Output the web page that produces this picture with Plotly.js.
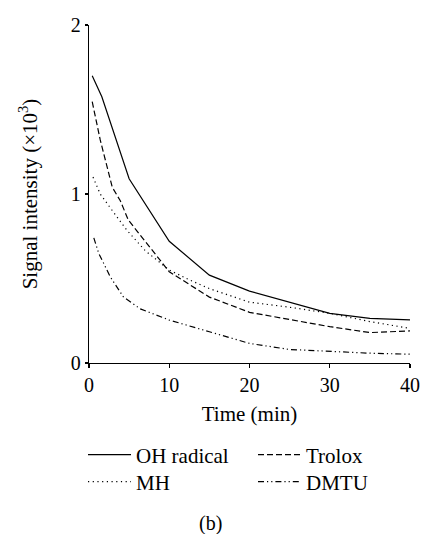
<!DOCTYPE html>
<html>
<head>
<meta charset="utf-8">
<script src="https://cdn.plot.ly/plotly-3.0.1.min.js"></script>
<style>html,body{margin:0;padding:0;background:#fff;}#chart{width:423px;height:534px;}</style>
</head>
<body>
<div id="chart"></div>
<script>
const seriesNames = ["OH radical", "Trolox", "MH", "DMTU"];
const tOH = [0.4, 1.6, 5, 10, 15, 20, 30, 35, 40];
const yOH = [1.70, 1.575, 1.09, 0.72, 0.52, 0.425, 0.294, 0.264, 0.255];
const tTrolox = [0.4, 0.6, 1.4, 2.9, 3.9, 4.9, 5.6, 7.2, 10, 12.6, 15, 20, 30, 35, 40];
const yTrolox = [1.546, 1.50, 1.32, 1.04, 0.96, 0.846, 0.806, 0.708, 0.54, 0.46, 0.39, 0.30, 0.215, 0.18, 0.19];
const tMH = [0.5, 1.4, 2.7, 4.7, 7, 10, 12.6, 15, 20, 25, 30, 35, 40];
const yMH = [1.10, 1.0, 0.915, 0.787, 0.665, 0.55, 0.49, 0.44, 0.36, 0.33, 0.294, 0.245, 0.205];
const tDMTU = [0.6, 1.2, 2.65, 4.3, 6.4, 10, 15, 20, 25, 30, 35, 40];
const yDMTU = [0.74, 0.65, 0.51, 0.39, 0.32, 0.254, 0.185, 0.116, 0.08, 0.068, 0.058, 0.052];
const xTicks = [0, 10, 20, 30, 40];
const yTicks = [0, 1, 2];

const F = "Liberation Serif, Times New Roman, serif";
const lw = 1.2;
const traces = [
  {x: tOH, y: yOH, name: seriesNames[0], mode: "lines", line: {color: "#000", width: lw, dash: "solid"}, legend: "legend"},
  {x: tTrolox, y: yTrolox, name: seriesNames[1], mode: "lines", line: {color: "#000", width: lw, dash: "6px,3px"}, legend: "legend"},
  {x: tMH, y: yMH, name: seriesNames[2], mode: "lines", line: {color: "#000", width: lw, dash: "1.2px,3.5px"}, legend: "legend2"},
  {x: tDMTU, y: yDMTU, name: seriesNames[3], mode: "lines", line: {color: "#000", width: lw, dash: "6px,3px,1.2px,3px,1.2px,3px"}, legend: "legend2"}
];

const legendCommon = {
  orientation: "h", xanchor: "left", yanchor: "middle", x: -0.018,
  font: {family: F, size: 21, color: "#000"}, bgcolor: "rgba(0,0,0,0)",
  itemwidth: 43,
  entrywidth: 112, entrywidthmode: "pixels", traceorder: "normal"
};

const layout = {
  width: 423, height: 534,
  margin: {l: 89, r: 13, t: 25, b: 171},
  paper_bgcolor: "#fff", plot_bgcolor: "#fff",
  font: {family: F, size: 20, color: "#000"},
  showlegend: true,
  legend: Object.assign({}, legendCommon, {y: -0.272}),
  legend2: Object.assign({}, legendCommon, {y: -0.352}),
  xaxis: {
    range: [0, 40], tickvals: xTicks, ticktext: xTicks.map(String),
    showline: true, linecolor: "#000", linewidth: 1.2, showgrid: false, zeroline: false,
    ticks: "outside", ticklen: 4, tickwidth: 1.2, tickcolor: "#000",
    tickfont: {family: F, size: 20, color: "#000"},
    title: {text: "Time (min)", font: {family: F, size: 21, color: "#000"}, standoff: 11}
  },
  yaxis: {
    range: [0, 2], tickvals: yTicks, ticktext: yTicks.map(String),
    showline: true, linecolor: "#000", linewidth: 1.2, showgrid: false, zeroline: false,
    ticks: "outside", ticklen: 3, tickwidth: 1.2, tickcolor: "#000",
    tickfont: {family: F, size: 20, color: "#000"},
    title: {text: "Signal intensity (×10<sup>3</sup>)", font: {family: F, size: 21, color: "#000"}, standoff: 27}
  },
  annotations: [
    {text: "(b)", xref: "paper", yref: "paper", x: 0.38, y: (363 - 523) / 338, xanchor: "center", yanchor: "middle", showarrow: false, font: {family: F, size: 20, color: "#000"}}
  ]
};

Plotly.newPlot("chart", traces, layout, {displayModeBar: false, staticPlot: true});
</script>
</body>
</html>
